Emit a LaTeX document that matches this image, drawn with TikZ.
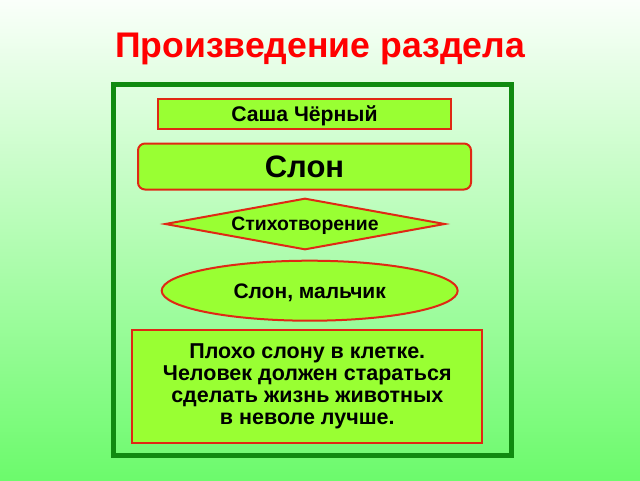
\documentclass[tikz,border=0pt]{standalone}
\usepackage{fontspec}
\setmainfont{Liberation Sans}
\usetikzlibrary{shapes.geometric}
\definecolor{boxfill}{RGB}{153,255,51}
\definecolor{boxline}{RGB}{224,40,20}
\definecolor{framegreen}{RGB}{16,138,16}
\definecolor{bgtop}{RGB}{250,255,250}
\definecolor{bgbot}{RGB}{108,250,108}
\definecolor{titlered}{RGB}{255,0,0}
\tikzset{
  boxbase/.style={fill=boxfill, draw=boxline, line width=2pt, inner sep=0pt, align=center, font=\bfseries},
  rectbox/.style={boxbase, rectangle},
  roundbox/.style={boxbase, rectangle, rounded corners=7pt},
  diambox/.style={boxbase, diamond, aspect=5.5},
  ellbox/.style={boxbase, ellipse},
  oneline/.style={text depth=0pt},
}
\begin{document}
\begin{tikzpicture}[x=1pt,y=-1pt]
\useasboundingbox (0,0) rectangle (640,480);
\shade[top color=bgtop, bottom color=bgbot] (0,0) rectangle (640,480);
\node[font=\fontsize{35.6}{40}\selectfont\bfseries, text=titlered, anchor=base, inner sep=0pt] (title) at (320,57) {Произведение раздела};
\draw[framegreen, line width=5pt] (113.5,84) rectangle (511.5,455);
\node[rectbox, oneline, minimum width=293pt, minimum height=30pt, font=\fontsize{21.2}{24}\selectfont\bfseries] (author) at (304.5,114) {Саша Чёрный};
\node[roundbox, oneline, minimum width=333pt, minimum height=46pt, font=\fontsize{31}{34}\selectfont\bfseries] (work) at (304.5,166.5) {Слон};
\node[diambox, oneline, minimum width=280pt, minimum height=51.5pt, font=\fontsize{19.4}{22}\selectfont\bfseries] (genre) at (305,224) {Стихотворение};
\node[ellbox, oneline, minimum width=296pt, minimum height=60pt, font=\fontsize{21}{24}\selectfont\bfseries] (heroes) at (309.7,290.7) {Слон, мальчик};
\node[rectbox, minimum width=350pt, minimum height=112.7pt, font=\fontsize{21.5}{22.2}\selectfont\bfseries] (idea) at (307.3,386.4) {Плохо слону в клетке.\\Человек должен стараться\\сделать жизнь животных\hspace*{6pt}\\в неволе лучше.};
\end{tikzpicture}
\end{document}
